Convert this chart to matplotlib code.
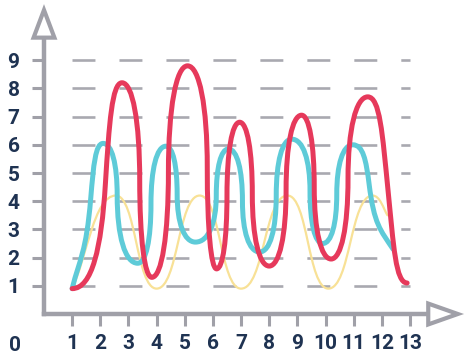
import numpy as np
import matplotlib
matplotlib.use("Agg")
import matplotlib.pyplot as plt
from matplotlib.path import Path
from matplotlib.patches import PathPatch, Polygon

V = np.inf  # vertical tangent

# points: turning points and the steep sides between them
red_x = [1, 2.18, 2.77, 3.4, 3.83, 4.42, 5.1, 5.8, 6.13, 6.5, 6.95, 7.4,
         8.0, 8.6, 9.15, 9.6, 10.2, 10.8, 11.5, 12.22, 12.9]
red_y = [0.9, 4.6, 8.2, 4.75, 1.3, 5.05, 8.8, 5.2, 1.6, 4.2, 6.8, 4.25,
         1.7, 4.4, 7.05, 4.5, 1.95, 4.8, 7.7, 4.4, 1.1]
red_slope = [0, 16, 0, V, 0, V, 0, V, 0, V, 0, V,
             0, V, 0, V, 0, V, 0, -10, 0]

cyan_x = [1, 1.66, 2.1, 2.6, 3.33, 3.8, 4.33, 4.73, 5.38, 6.12, 6.55, 7.05,
          7.66, 8.25, 8.8, 9.45, 9.9, 10.4, 10.97, 11.55, 12.4]
cyan_y = [0.9, 4.1, 6.05, 4.2, 1.8, 3.9, 5.95, 4.25, 2.55, 4.2, 5.85, 4.0,
          2.2, 4.2, 6.2, 4.35, 2.5, 4.25, 6.0, 4.6, 2.3]
cyan_slope = [4, 12, 0, V, 0, V, 0, V, 0, V, 0, V,
              0, V, 0, V, 0, V, 0, -8, -1.5]

yellow_x = [1, 2.55, 4.0, 5.53, 7.0, 8.65, 10.1, 11.67, 12.2]
yellow_y = [0.9, 4.2, 0.9, 4.2, 0.9, 4.2, 0.9, 4.2, 3.5]
yellow_slope = [2.1, 0, 0, 0, 0, 0, 0, 0, -1.7]

x_ticks = list(range(1, 14))
y_ticks = list(range(1, 10))

GREY = "#a0a0a8"
NAVY = "#1f3352"


def curve_path(xs, ys, tangents, cx, cy):
    n = len(xs)
    verts = [(xs[0], ys[0])]
    codes = [Path.MOVETO]

    def handle(i, dx, dy):
        s = tangents[i]
        if np.isinf(s):
            u = np.array([0.0, np.sign(dy)])
        else:
            u = np.array([1.0, s]) / np.hypot(1.0, s)
        if s != 0 and not np.isinf(s) and i in (0, n - 1):
            length = np.hypot(dx, dy) / 3
        else:
            length = cx * abs(dx) * abs(u[0]) + cy * abs(dy) * abs(u[1])
        return u * length

    for i in range(n - 1):
        p0 = np.array([xs[i], ys[i]])
        p1 = np.array([xs[i + 1], ys[i + 1]])
        dx, dy = p1 - p0
        c0 = p0 + handle(i, dx, dy)
        c1 = p1 - handle(i + 1, dx, dy)
        verts += [tuple(c0), tuple(c1), tuple(p1)]
        codes += [Path.CURVE4] * 3
    return Path(verts, codes)


plt.rcParams["font.family"] = ["Roboto", "DejaVu Sans"]

fig = plt.figure(figsize=(4.7, 3.62), dpi=100)
ax = fig.add_axes([0, 0, 1, 1])
ax.set_xlim(-44 / 28.15, (470 - 44) / 28.15)
ax.set_ylim(-(362 - 314) / 28.2, 314 / 28.2)

# dashed guide lines
ax.hlines(y_ticks, 1, 13, colors="#a9a9b0", linewidth=1.9,
          linestyles=[(0, (8.7, 9.1))], zorder=1)

series = [
    (yellow_x, yellow_y, yellow_slope, "#f8e196", 1.6, 0.5, 0.5, 2),
    (cyan_x, cyan_y, cyan_slope, "#5ecbd8", 3.6, 0.62, 0.6, 3),
    (red_x, red_y, red_slope, "#e6395b", 3.6, 0.6, 0.6, 4),
]
for xs, ys, ts, col, lw, cx, cy, z in series:
    ax.add_patch(PathPatch(curve_path(xs, ys, ts, cx, cy), fill=False,
                           edgecolor=col, linewidth=lw, capstyle="round",
                           joinstyle="round", zorder=z))

# axes with open arrow heads
for s in ["top", "right"]:
    ax.spines[s].set_visible(False)
ax.spines["left"].set_position(("data", 0))
ax.spines["bottom"].set_position(("data", 0))
ax.spines["left"].set_bounds(0, 9.8)
ax.spines["bottom"].set_bounds(0, 13.65)
for s in ["left", "bottom"]:
    ax.spines[s].set_color(GREY)
    ax.spines[s].set_linewidth(3.2)
    ax.spines[s].set_capstyle("projecting")
    ax.spines[s].set_zorder(5)

ax.add_patch(Polygon([(13.65, -0.37), (14.7, 0), (13.65, 0.37)], closed=True,
                     facecolor="white", edgecolor=GREY, linewidth=3,
                     joinstyle="miter", zorder=6, clip_on=False))
ax.add_patch(Polygon([(-0.37, 9.8), (0, 10.78), (0.37, 9.8)], closed=True,
                     facecolor="white", edgecolor=GREY, linewidth=3,
                     joinstyle="miter", zorder=6, clip_on=False))

ax.set_xticks(x_ticks)
ax.set_yticks(y_ticks)
ax.set_xticklabels([str(v) for v in x_ticks])
ax.set_yticklabels([str(v) for v in y_ticks])
ax.tick_params(length=8.6, width=2.2, color=GREY, labelcolor=NAVY,
               labelsize=15, direction="out")
ax.tick_params(axis="y", pad=9)
ax.tick_params(axis="x", pad=6)
for lab in ax.get_xticklabels() + ax.get_yticklabels():
    lab.set_fontweight("bold")

ax.text(-1.03, -1.13, "0", color=NAVY, fontsize=15, fontweight="bold",
        ha="center", va="center")

fig.savefig("out.png", dpi=100)
